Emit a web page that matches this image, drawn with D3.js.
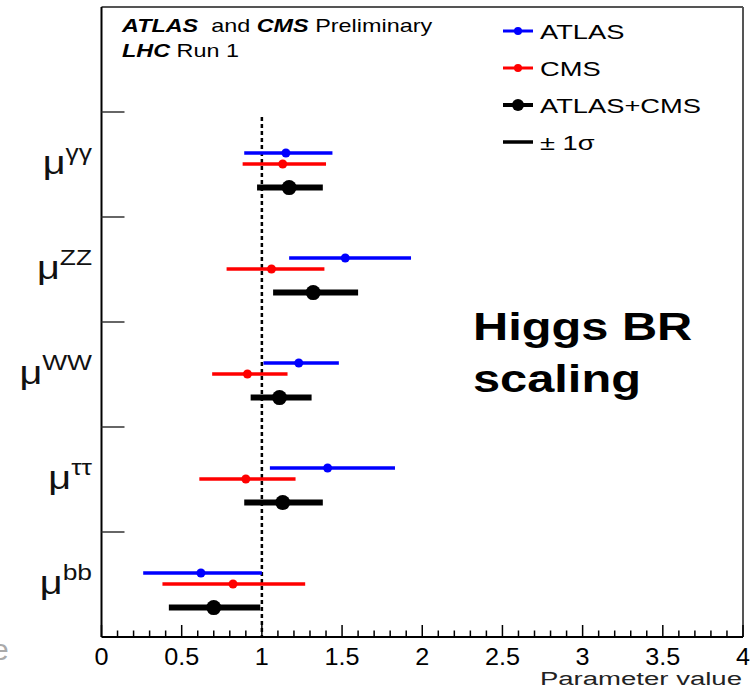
<!DOCTYPE html>
<html lang="en">
<head>
<meta charset="UTF-8">
<title>Higgs BR scaling</title>
<script src="https://d3js.org/d3.v7.min.js"></script>
<style>
    body { margin: 0; background: #fff; }
    svg text { font-family: "Liberation Sans", Arial, sans-serif; }
</style>
</head>
<body>
<svg id="chart"></svg>
<script>
    // values
    var categories = ["γγ", "ZZ", "WW", "ττ", "bb"];
    var atlasVal = [1.15, 1.52, 1.23, 1.41, 0.62];
    var atlasLo  = [0.89, 1.17, 1.01, 1.05, 0.26];
    var atlasHi  = [1.44, 1.93, 1.48, 1.83, 1.00];
    var cmsVal = [1.13, 1.06, 0.91, 0.90, 0.82];
    var cmsLo  = [0.88, 0.78, 0.69, 0.61, 0.38];
    var cmsHi  = [1.40, 1.39, 1.16, 1.21, 1.27];
    var combVal = [1.17, 1.32, 1.11, 1.13, 0.70];
    var combLo  = [0.97, 1.07, 0.93, 0.89, 0.42];
    var combHi  = [1.38, 1.60, 1.31, 1.38, 0.99];
    var xTicks = [0, 0.5, 1, 1.5, 2, 2.5, 3, 3.5, 4];

    var series = [
        {name: "ATLAS", color: "#0000ff", val: atlasVal, lo: atlasLo, hi: atlasHi, off: 0.39, lw: 3.5, r: 4.5},
        {name: "CMS", color: "#ff0000", val: cmsVal, lo: cmsLo, hi: cmsHi, off: 0.495, lw: 3.5, r: 4.5},
        {name: "ATLAS+CMS", color: "#000000", val: combVal, lo: combLo, hi: combHi, off: 0.72, lw: 6, r: 7.5}
    ];

    var W = 753, H = 690;
    var plotL = 101.5, plotR = 743, plotT = 7, plotB = 637;
    var sx = 1.25; // text in the picture is stretched sideways

    var svg = d3.select("#chart").attr("width", W).attr("height", H);

    var x = d3.scaleLinear().domain([0, 4]).range([plotL, plotR]);
    var y = d3.scaleBand().domain(["legend"].concat(categories)).range([plotT, plotB]);
    var bw = y.bandwidth();

    function stretchedText(px, py, str, k) {
        return svg.append("text")
            .attr("transform", "translate(" + px + "," + py + ") scale(" + (k || sx) + ",1)")
            .text(str);
    }

    // frame
    svg.append("line").attr("x1", plotL).attr("x2", plotR).attr("y1", plotT).attr("y2", plotT)
        .attr("stroke", "#555").attr("stroke-width", 2);
    svg.append("line").attr("x1", plotR).attr("x2", plotR).attr("y1", plotT).attr("y2", plotB)
        .attr("stroke", "#555").attr("stroke-width", 2);

    // x axis with minor ticks
    var minor = d3.range(0, 40.5).map(function(i){ return i / 10; });
    svg.append("g").selectAll("line").data(minor).enter().append("line")
        .attr("x1", function(d){ return x(d); }).attr("x2", function(d){ return x(d); })
        .attr("y1", plotB)
        .attr("y2", function(d, i){ return i % 5 === 0 ? plotB - 12 : plotB - 6.5; })
        .attr("stroke", "#000").attr("stroke-width", 1.5);
    svg.append("line").attr("x1", plotL).attr("x2", plotR).attr("y1", plotB).attr("y2", plotB)
        .attr("stroke", "#000").attr("stroke-width", 2);
    svg.append("line").attr("x1", plotL).attr("x2", plotL).attr("y1", plotT).attr("y2", plotB)
        .attr("stroke", "#000").attr("stroke-width", 2);

    var tickG = svg.append("g").attr("font-size", 24).attr("text-anchor", "middle");
    xTicks.forEach(function(t){
        tickG.append("text")
            .attr("transform", "translate(" + x(t) + ",665) scale(1.05,1)")
            .text(t);
    });
    stretchedText(plotR - 1, 685, "Parameter value", 1.45).attr("font-size", 19).attr("text-anchor", "end").attr("fill", "#222");

    // y ticks at category boundaries
    svg.append("g").selectAll("line").data(categories).enter().append("line")
        .attr("x1", plotL).attr("x2", plotL + 23)
        .attr("y1", function(d){ return y(d); }).attr("y2", function(d){ return y(d); })
        .attr("stroke", "#333").attr("stroke-width", 1.5);

    // category labels mu^xx
    categories.forEach(function(c){
        var t = svg.append("text")
            .attr("transform", "translate(92," + (y(c) + bw / 2 + 9) + ") scale(1.2,1)")
            .attr("text-anchor", "end").attr("font-size", 33).attr("fill", "#111");
        t.append("tspan").text("μ");
        t.append("tspan").attr("font-size", 22).attr("dy", -14).text(c);
    });

    // SM line at 1
    svg.append("line").attr("x1", x(1)).attr("x2", x(1))
        .attr("y1", y(categories[0]) + 5).attr("y2", plotB)
        .attr("stroke", "#000").attr("stroke-width", 2.5).attr("stroke-dasharray", "4,3");

    // error bars and points
    series.forEach(function(s){
        var g = svg.append("g");
        g.selectAll("line").data(categories).enter().append("line")
            .attr("x1", function(d, i){ return x(s.lo[i]); })
            .attr("x2", function(d, i){ return x(s.hi[i]); })
            .attr("y1", function(d){ return y(d) + bw * s.off; })
            .attr("y2", function(d){ return y(d) + bw * s.off; })
            .attr("stroke", s.color).attr("stroke-width", s.lw);
        g.selectAll("circle").data(categories).enter().append("circle")
            .attr("cx", function(d, i){ return x(s.val[i]); })
            .attr("cy", function(d){ return y(d) + bw * s.off; })
            .attr("r", s.r).attr("fill", s.color);
    });

    // header
    var hdr = stretchedText(122, 32, "", 1.3).attr("font-size", 18);
    hdr.append("tspan").attr("font-weight", "bold").attr("font-style", "italic").text("ATLAS");
    hdr.append("tspan").attr("xml:space", "preserve").text("  and ");
    hdr.append("tspan").attr("font-weight", "bold").attr("font-style", "italic").text("CMS");
    hdr.append("tspan").text(" Preliminary");
    var hdr2 = stretchedText(122, 57, "", 1.3).attr("font-size", 18);
    hdr2.append("tspan").attr("font-weight", "bold").attr("font-style", "italic").text("LHC");
    hdr2.append("tspan").text(" Run 1");

    // legend
    var legRows = series.map(function(s){ return {name: s.name, color: s.color, lw: s.lw === 6 ? 4 : 3, r: s.r === 7.5 ? 6 : 4}; });
    legRows.push({name: "± 1σ", color: "#000", lw: 3.5, r: 0});
    legRows.forEach(function(d, i){
        var ly = 31 + i * 37;
        svg.append("line").attr("x1", 503).attr("x2", 533).attr("y1", ly).attr("y2", ly)
            .attr("stroke", d.color).attr("stroke-width", d.lw);
        if (d.r > 0) svg.append("circle").attr("cx", 518).attr("cy", ly).attr("r", d.r).attr("fill", d.color);
        stretchedText(540, ly + 8, d.name, 1.3).attr("font-size", 21);
    });

    // big label
    stretchedText(473, 340, "Higgs BR").attr("font-size", 39).attr("font-weight", "bold");
    stretchedText(473, 392, "scaling").attr("font-size", 39).attr("font-weight", "bold");

    // fragment of slide text cut at the left edge
    svg.append("text").attr("x", -8).attr("y", 660).attr("font-size", 30).attr("fill", "#aaa").text("e");
</script>
</body>
</html>
